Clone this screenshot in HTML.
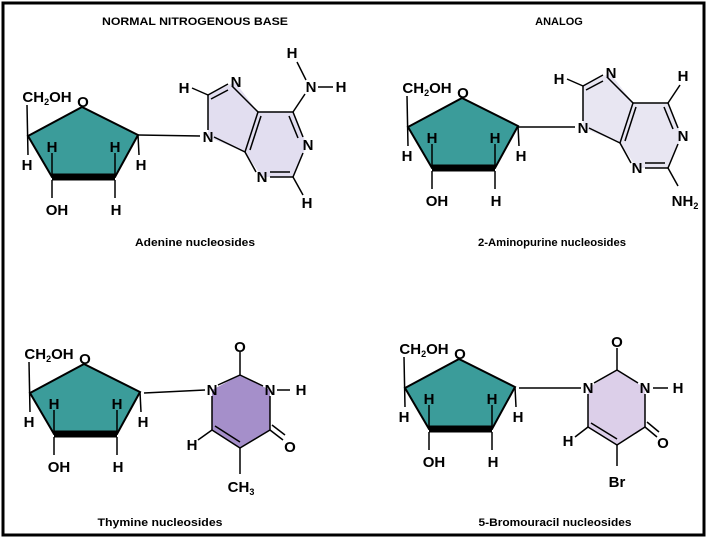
<!DOCTYPE html>
<html><head><meta charset="utf-8"><style>
html,body{margin:0;padding:0;background:#fff;}
svg{display:block;font-family:"Liberation Sans",Arial,sans-serif;font-weight:bold;}
</style></head><body>
<svg width="710" height="538" viewBox="0 0 710 538" xmlns="http://www.w3.org/2000/svg">
<rect x="3" y="3" width="701" height="532" fill="#fff" stroke="#000" stroke-width="3"/>
<text x="195" y="25" font-size="11" text-anchor="middle" textLength="186" lengthAdjust="spacingAndGlyphs">NORMAL NITROGENOUS BASE</text>
<text x="559" y="25" font-size="11" text-anchor="middle">ANALOG</text>

<g font-size="15" text-anchor="middle">
  <polygon points="28,136 82,107 138,135 115,177 52,177" fill="#3b9c9a" stroke="#000" stroke-width="2"/>
  <line x1="52" y1="177" x2="115" y2="177" stroke="#000" stroke-width="7"/>
  <line x1="27" y1="105" x2="28" y2="155" stroke="#000" stroke-width="1.5"/>
  <line x1="52" y1="177" x2="52" y2="153" stroke="#000" stroke-width="1.5"/>
  <line x1="115" y1="177" x2="115" y2="153" stroke="#000" stroke-width="1.5"/>
  <line x1="138" y1="135" x2="139" y2="155" stroke="#000" stroke-width="1.5"/>
  <line x1="52" y1="180" x2="52" y2="198" stroke="#000" stroke-width="1.5"/>
  <line x1="115" y1="180" x2="115" y2="198" stroke="#000" stroke-width="1.5"/>
  <text x="47" y="102">CH<tspan font-size="9" dy="3">2</tspan><tspan dy="-3">OH</tspan></text>
  <text x="83" y="107">O</text>
  <text x="52" y="152">H</text><text x="115" y="152">H</text>
  <text x="27" y="170">H</text><text x="141" y="170">H</text>
  <text x="57" y="215">OH</text><text x="116" y="215">H</text>
</g>
<g transform="translate(380,-9)">
 <g font-size="15" text-anchor="middle">
  <polygon points="28,136 82,107 138,135 115,177 52,177" fill="#3b9c9a" stroke="#000" stroke-width="2"/>
  <line x1="52" y1="177" x2="115" y2="177" stroke="#000" stroke-width="7"/>
  <line x1="27" y1="105" x2="28" y2="155" stroke="#000" stroke-width="1.5"/>
  <line x1="52" y1="177" x2="52" y2="153" stroke="#000" stroke-width="1.5"/>
  <line x1="115" y1="177" x2="115" y2="153" stroke="#000" stroke-width="1.5"/>
  <line x1="138" y1="135" x2="139" y2="155" stroke="#000" stroke-width="1.5"/>
  <line x1="52" y1="180" x2="52" y2="198" stroke="#000" stroke-width="1.5"/>
  <line x1="115" y1="180" x2="115" y2="198" stroke="#000" stroke-width="1.5"/>
  <text x="47" y="102">CH<tspan font-size="9" dy="3">2</tspan><tspan dy="-3">OH</tspan></text>
  <text x="83" y="107">O</text>
  <text x="52" y="152">H</text><text x="115" y="152">H</text>
  <text x="27" y="170">H</text><text x="141" y="170">H</text>
  <text x="57" y="215">OH</text><text x="116" y="215">H</text>
 </g>
</g>
<g transform="translate(2,257)">
 <g font-size="15" text-anchor="middle">
  <polygon points="28,136 82,107 138,135 115,177 52,177" fill="#3b9c9a" stroke="#000" stroke-width="2"/>
  <line x1="52" y1="177" x2="115" y2="177" stroke="#000" stroke-width="7"/>
  <line x1="27" y1="105" x2="28" y2="155" stroke="#000" stroke-width="1.5"/>
  <line x1="52" y1="177" x2="52" y2="153" stroke="#000" stroke-width="1.5"/>
  <line x1="115" y1="177" x2="115" y2="153" stroke="#000" stroke-width="1.5"/>
  <line x1="138" y1="135" x2="139" y2="155" stroke="#000" stroke-width="1.5"/>
  <line x1="52" y1="180" x2="52" y2="198" stroke="#000" stroke-width="1.5"/>
  <line x1="115" y1="180" x2="115" y2="198" stroke="#000" stroke-width="1.5"/>
  <text x="47" y="102">CH<tspan font-size="9" dy="3">2</tspan><tspan dy="-3">OH</tspan></text>
  <text x="83" y="107">O</text>
  <text x="52" y="152">H</text><text x="115" y="152">H</text>
  <text x="27" y="170">H</text><text x="141" y="170">H</text>
  <text x="57" y="215">OH</text><text x="116" y="215">H</text>
 </g>
</g>
<g transform="translate(377,252)">
 <g font-size="15" text-anchor="middle">
  <polygon points="28,136 82,107 138,135 115,177 52,177" fill="#3b9c9a" stroke="#000" stroke-width="2"/>
  <line x1="52" y1="177" x2="115" y2="177" stroke="#000" stroke-width="7"/>
  <line x1="27" y1="105" x2="28" y2="155" stroke="#000" stroke-width="1.5"/>
  <line x1="52" y1="177" x2="52" y2="153" stroke="#000" stroke-width="1.5"/>
  <line x1="115" y1="177" x2="115" y2="153" stroke="#000" stroke-width="1.5"/>
  <line x1="138" y1="135" x2="139" y2="155" stroke="#000" stroke-width="1.5"/>
  <line x1="52" y1="180" x2="52" y2="198" stroke="#000" stroke-width="1.5"/>
  <line x1="115" y1="180" x2="115" y2="198" stroke="#000" stroke-width="1.5"/>
  <text x="47" y="102">CH<tspan font-size="9" dy="3">2</tspan><tspan dy="-3">OH</tspan></text>
  <text x="83" y="107">O</text>
  <text x="52" y="152">H</text><text x="115" y="152">H</text>
  <text x="27" y="170">H</text><text x="141" y="170">H</text>
  <text x="57" y="215">OH</text><text x="116" y="215">H</text>
 </g>
</g>

<g stroke="#000" stroke-width="1.5" fill="none">
  <polygon points="208,137 208,95 235,82 258,112 245,152" fill="#e2def0" stroke="none"/>
  <polygon points="258,112 293,112 307,145 293,177 262,177 245,152" fill="#e2def0" stroke="none"/>
  <line x1="138" y1="135" x2="200" y2="136"/>
  <polyline points="214,137 245,152 258,112 232,86"/>
  <line x1="208" y1="130" x2="208" y2="95"/><line x1="208" y1="95" x2="228" y2="84"/><line x1="211" y1="99" x2="228" y2="90"/>
  <line x1="208" y1="95" x2="192" y2="88"/>
  <line x1="250" y1="150" x2="261" y2="116"/>
  <line x1="258" y1="112" x2="293" y2="112"/><line x1="293" y1="112" x2="303" y2="137"/><line x1="289" y1="116" x2="298" y2="138"/>
  <line x1="303" y1="153" x2="293" y2="177"/><line x1="293" y1="177" x2="270" y2="177"/><line x1="290" y1="172" x2="270" y2="172"/>
  <line x1="256" y1="172" x2="245" y2="152"/>
  <line x1="293" y1="177" x2="303" y2="195"/>
  <line x1="293" y1="112" x2="305" y2="94"/><line x1="306" y1="80" x2="297" y2="62"/><line x1="318" y1="87" x2="333" y2="87"/>
</g>
<g font-size="15" text-anchor="middle">
  <text x="208" y="142">N</text><text x="184" y="93">H</text><text x="236" y="87">N</text>
  <text x="308" y="150">N</text><text x="262" y="182">N</text><text x="307" y="208">H</text>
  <text x="311" y="92">N</text><text x="292" y="58">H</text><text x="341" y="92">H</text>
</g>
<text x="195" y="246" font-size="11" text-anchor="middle" textLength="120" lengthAdjust="spacingAndGlyphs">Adenine nucleosides</text>

<g transform="translate(375,-9)">
<g stroke="#000" stroke-width="1.5" fill="none">
  <polygon points="208,137 208,95 235,82 258,112 245,152" fill="#e8e6f2" stroke="none"/>
  <polygon points="258,112 293,112 307,145 293,177 262,177 245,152" fill="#e8e6f2" stroke="none"/>
  <line x1="143" y1="136" x2="200" y2="136"/>
  <polyline points="214,137 245,152 258,112 232,86"/>
  <line x1="208" y1="130" x2="208" y2="95"/><line x1="208" y1="95" x2="228" y2="84"/><line x1="211" y1="99" x2="228" y2="90"/>
  <line x1="208" y1="95" x2="192" y2="88"/>
  <line x1="250" y1="150" x2="261" y2="116"/>
  <line x1="258" y1="112" x2="293" y2="112"/><line x1="293" y1="112" x2="303" y2="137"/><line x1="289" y1="116" x2="298" y2="138"/>
  <line x1="303" y1="153" x2="293" y2="177"/><line x1="293" y1="177" x2="270" y2="177"/><line x1="290" y1="172" x2="270" y2="172"/>
  <line x1="256" y1="172" x2="245" y2="152"/>
  <line x1="293" y1="177" x2="303" y2="195"/>
  <line x1="293" y1="112" x2="305" y2="94"/>
</g>
<g font-size="15" text-anchor="middle">
  <text x="208" y="142">N</text><text x="184" y="93">H</text><text x="236" y="87">N</text>
  <text x="308" y="150">N</text><text x="262" y="182">N</text><text x="308" y="90">H</text>
  <text x="310" y="215">NH<tspan font-size="9" dy="3">2</tspan></text>
</g>
</g>
<text x="552" y="246" font-size="11" text-anchor="middle" textLength="148" lengthAdjust="spacingAndGlyphs">2-Aminopurine nucleosides</text>

<g stroke="#000" stroke-width="1.5" fill="none">
  <polygon points="212,390 240,375 270,390 270,430 240,448 212,430" fill="#a58fca" stroke="none"/>
  <line x1="144" y1="393" x2="205" y2="390"/>
  <line x1="218" y1="385" x2="240" y2="375"/><line x1="240" y1="375" x2="263" y2="386"/>
  <line x1="240" y1="375" x2="240" y2="352"/>
  <line x1="277" y1="390" x2="290" y2="390"/>
  <line x1="270" y1="396" x2="270" y2="430"/><line x1="270" y1="430" x2="240" y2="448"/>
  <line x1="270" y1="430" x2="283" y2="440"/><line x1="272" y1="425" x2="285" y2="435"/>
  <line x1="240" y1="448" x2="212" y2="430"/><line x1="240" y1="442" x2="215" y2="426"/>
  <line x1="212" y1="430" x2="212" y2="396"/>
  <line x1="212" y1="430" x2="198" y2="440"/>
  <line x1="240" y1="448" x2="240" y2="474"/>
</g>
<g font-size="15" text-anchor="middle">
  <text x="212" y="395">N</text><text x="240" y="352">O</text><text x="270" y="395">N</text><text x="301" y="395">H</text>
  <text x="290" y="452">O</text><text x="192" y="450">H</text>
  <text x="241" y="492">CH<tspan font-size="9" dy="3">3</tspan></text>
</g>
<text x="160" y="526" font-size="11" text-anchor="middle" textLength="125" lengthAdjust="spacingAndGlyphs">Thymine nucleosides</text>

<g stroke="#000" stroke-width="1.5" fill="none">
  <polygon points="588,388 617,370 645,388 645,427 617,445 588,427" fill="#dccfe9" stroke="none"/>
  <line x1="519" y1="388" x2="581" y2="388"/>
  <line x1="594" y1="383" x2="617" y2="370"/><line x1="617" y1="370" x2="638" y2="383"/>
  <line x1="617" y1="370" x2="617" y2="348"/>
  <line x1="653" y1="388" x2="668" y2="388"/>
  <line x1="645" y1="394" x2="645" y2="427"/><line x1="645" y1="427" x2="617" y2="445"/>
  <line x1="645" y1="427" x2="657" y2="437"/><line x1="647" y1="422" x2="659" y2="432"/>
  <line x1="617" y1="445" x2="588" y2="427"/><line x1="617" y1="439" x2="591" y2="423"/>
  <line x1="588" y1="427" x2="588" y2="394"/>
  <line x1="588" y1="427" x2="575" y2="437"/>
  <line x1="617" y1="445" x2="617" y2="466"/>
</g>
<g font-size="15" text-anchor="middle">
  <text x="588" y="393">N</text><text x="617" y="347">O</text><text x="645" y="393">N</text><text x="678" y="393">H</text>
  <text x="663" y="448">O</text><text x="568" y="446">H</text><text x="617" y="487">Br</text>
</g>
<text x="555" y="526" font-size="11" text-anchor="middle" textLength="153" lengthAdjust="spacingAndGlyphs">5-Bromouracil nucleosides</text>
</svg>
</body></html>
